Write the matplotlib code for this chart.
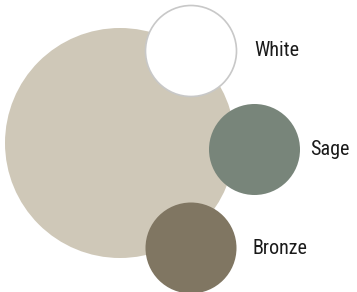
import matplotlib
matplotlib.use("Agg")
import matplotlib.pyplot as plt
from matplotlib.patches import Circle

# Data
categories = ["", "White", "Sage", "Bronze"]
x_center = [120, 191, 254.5, 191]
y_center = [143, 51, 149.5, 248]
radius = [115, 45.5, 45.5, 45.5]
fill_colors = ["#CFC8B8", "#FFFFFF", "#78857A", "#807662"]
edge_colors = ["none", "#C8C8C8", "none", "none"]
label_pad = [0, 17.5, 10, 16.5]

fig = plt.figure(figsize=(3.57, 2.92), dpi=100)
ax = fig.add_axes([0, 0, 1, 1])
ax.set_xlim(0, 357)
ax.set_ylim(292, 0)
ax.set_aspect("equal")
ax.axis("off")

for cat, x, y, r, fc, ec, pad in zip(categories, x_center, y_center, radius,
                                     fill_colors, edge_colors, label_pad):
    ax.add_patch(Circle((x, y), r, facecolor=fc, edgecolor=ec,
                        linewidth=1.2 if ec != "none" else 0))
    if cat:
        ax.text(x + r + pad, y, cat, ha="left", va="center", fontsize=14.5,
                fontweight="normal",
                family=["Roboto Condensed", "DejaVu Sans"], color="#1a1a1a")

fig.savefig("out.png", dpi=100)
